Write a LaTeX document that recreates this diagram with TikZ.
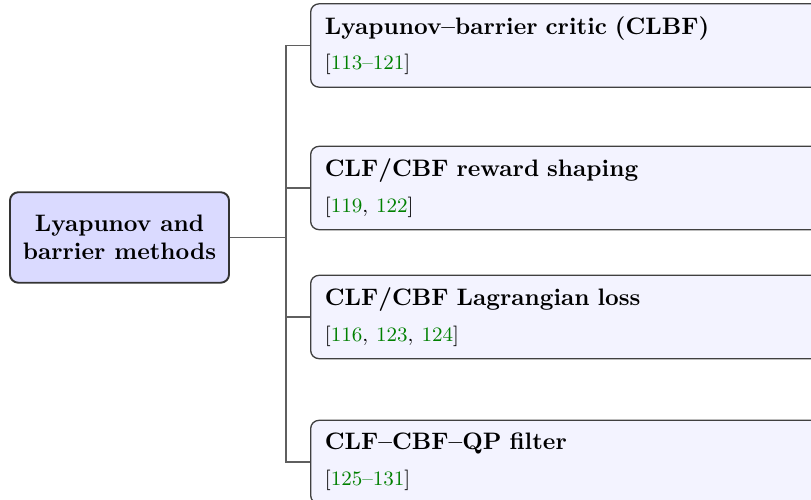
\documentclass[tikz,border=0pt]{standalone}
\usepackage{xcolor}
\usetikzlibrary{positioning}

\definecolor{rootfill}{RGB}{218,218,255}
\definecolor{leaffill}{RGB}{243,243,255}
\definecolor{citegreen}{RGB}{0,128,0}
\definecolor{linegray}{RGB}{95,95,95}

\newcommand{\gref}[1]{\textcolor{citegreen}{#1}}
\newcommand{\refgroup}[1]{{\fontsize{8.6}{10.5}\selectfont[#1]}}

\begin{document}
\begin{tikzpicture}[x=0.42pt,y=-0.42pt,semithick]
			\tikzstyle{rootbox}=[draw=black!80, fill=rootfill, rounded corners=3.5pt, align=center, font=\bfseries, minimum width=92pt, minimum height=38pt, inner sep=2pt, line width=0.8pt]
			\tikzstyle{leaf}=[draw=black!75, fill=leaffill, rounded corners=3.5pt, align=left, text width=240pt, minimum height=35pt, inner xsep=6pt, anchor=west, line width=0.55pt]
			\tikzstyle{link}=[draw=linegray, line width=0.6pt]
			\useasboundingbox (0,0) rectangle (811,500);
			\clip (0,0) rectangle (811,500);

					 \node[rootbox]  (root)     at (119.5,237.5) {Lyapunov and\\barrier methods};
					 \node[leaf]     (critic)   at (310,45.5)  {\textbf{Lyapunov--barrier critic (CLBF)}\\[3pt]\refgroup{\gref{113--121}}};
					 \node[leaf]     (shaping)  at (310,188)   {\textbf{CLF/CBF reward shaping}\\[3pt]\refgroup{\gref{119}, \gref{122}}};
					 \node[leaf]     (lagrange) at (310,317)   {\textbf{CLF/CBF Lagrangian loss}\\[3pt]\refgroup{\gref{116}, \gref{123}, \gref{124}}};
					 \node[leaf]     (qpfilter) at (310,462)   {\textbf{CLF--CBF--QP filter}\\[3pt]\refgroup{\gref{125--131}}};

					 \coordinate (fork) at (286,237.5);

					 \draw[link] (root.east) -- (fork);
					 \foreach \c in {critic,shaping,lagrange,qpfilter}
					 	\draw[link] (fork) |- (\c.west);

	\end{tikzpicture}
\end{document}
